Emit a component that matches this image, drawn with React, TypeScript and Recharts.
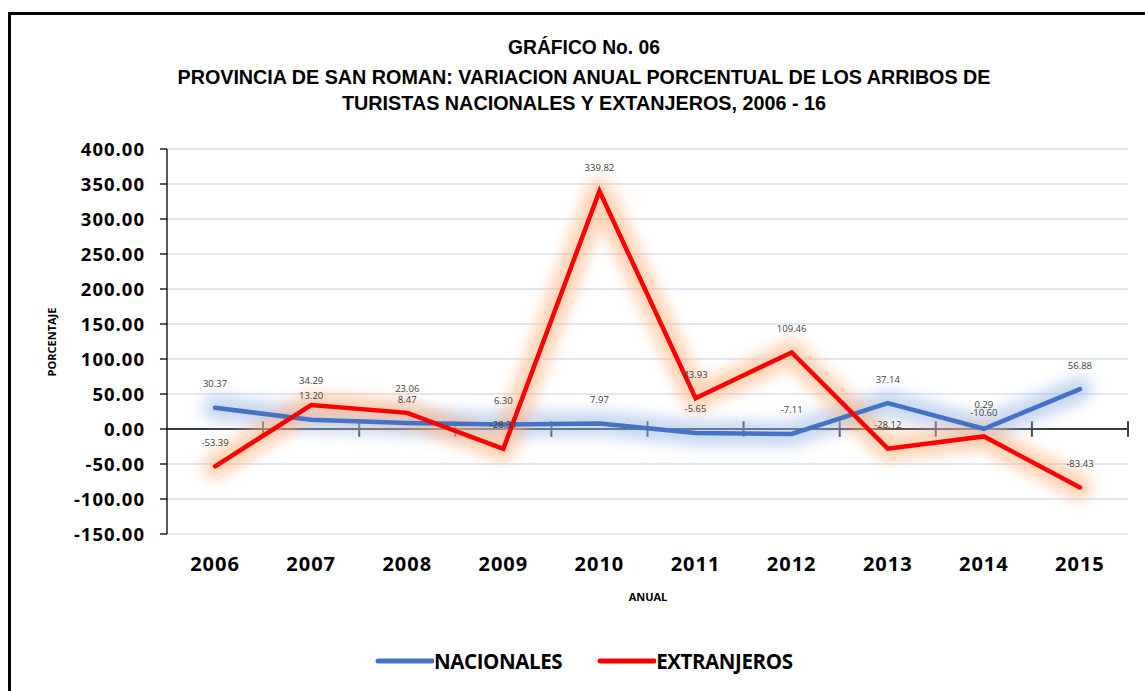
import React from 'react';
import { LineChart, Line, XAxis, YAxis, CartesianGrid, ReferenceLine, LabelList } from 'recharts';

const years = ['2006', '2007', '2008', '2009', '2010', '2011', '2012', '2013', '2014', '2015'];
const nacionales = [30.37, 13.2, 8.47, 6.3, 7.97, -5.65, -7.11, 37.14, 0.29, 56.88];
const extranjeros = [-53.39, 34.29, 23.06, -28.31, 339.82, 43.93, 109.46, -28.12, -10.6, -83.43];
const yTicks = [-150, -100, -50, 0, 50, 100, 150, 200, 250, 300, 350, 400];
const titleLines = [
  'GRÁFICO No. 06',
  'PROVINCIA DE SAN ROMAN: VARIACION ANUAL PORCENTUAL DE LOS ARRIBOS DE',
  'TURISTAS NACIONALES Y EXTANJEROS, 2006 - 16',
];
const series = [
  { key: 'nac', name: 'NACIONALES', color: '#4472C4', glow: '#9DB8E8' },
  { key: 'ext', name: 'EXTRANJEROS', color: '#FF0000', glow: '#FFB07A' },
];

const data = years.map((y, i) => ({ idx: i, year: y, nac: nacionales[i], ext: extranjeros[i] }));
const boundaries = years.map((_, i) => i + 0.5);

const W = 1145;
const H = 691;

export default function App() {
  return (
    <div style={{ position: 'absolute', left: 0, top: 0, width: W, height: H, overflow: 'hidden', background: '#fff' }}>
      <svg width={0} height={0} style={{ position: 'absolute' }}>
        <defs>
          <filter id="glowBlur" filterUnits="userSpaceOnUse" x={0} y={0} width={W} height={H}>
            <feGaussianBlur stdDeviation={7} />
          </filter>
        </defs>
      </svg>
      <div style={{ position: 'absolute', left: 8, top: 12, width: 1300, height: 800, border: '3px solid #000', boxSizing: 'border-box' }} />
      <svg width={W} height={130} style={{ position: 'absolute', left: 0, top: 0 }}>
        <text x={584} y={54} textAnchor="middle" fontFamily="'Liberation Sans', Arial, sans-serif" fontWeight="bold" fontSize={21} textLength={152} lengthAdjust="spacingAndGlyphs" fill="#000">{titleLines[0]}</text>
        <text x={584} y={84} textAnchor="middle" fontFamily="'Liberation Sans', Arial, sans-serif" fontWeight="bold" fontSize={21} textLength={813} lengthAdjust="spacingAndGlyphs" fill="#000">{titleLines[1]}</text>
        <text x={584} y={110} textAnchor="middle" fontFamily="'Liberation Sans', Arial, sans-serif" fontWeight="bold" fontSize={21} textLength={484} lengthAdjust="spacingAndGlyphs" fill="#000">{titleLines[2]}</text>
      </svg>
      <div style={{ position: 'absolute', left: 0, top: 0 }}>
        <LineChart width={W} height={H} data={data} margin={{ top: 149, right: 17, left: 0, bottom: 117 }}>
          <CartesianGrid vertical={false} stroke="#D6DFF1" strokeWidth={1.5} />
          <XAxis
            type="number"
            dataKey="idx"
            domain={[-0.5, 9.5]}
            ticks={years.map((_, i) => i)}
            tickFormatter={(v: number) => years[v]}
            axisLine={false}
            tickLine={false}
            tickSize={0}
            tickMargin={23}
            height={40}
            interval={0}
            tick={{ fill: '#000', fontFamily: "'Open Sans', sans-serif", fontWeight: 700, fontSize: 20, letterSpacing: 1 }}
          />
          <YAxis
            type="number"
            domain={[-150, 400]}
            ticks={yTicks}
            width={167}
            interval={0}
            tickFormatter={(v: number) => v.toFixed(2)}
            axisLine={{ stroke: '#000', strokeWidth: 1.3 }}
            tickLine={{ stroke: '#000', strokeWidth: 1.3 }}
            tickSize={7}
            tickMargin={15}
            tick={{ fill: '#000', fontFamily: "'Open Sans', sans-serif", fontWeight: 700, fontSize: 18.5, letterSpacing: 1 }}
          />
          <ReferenceLine y={0} stroke="#000" strokeWidth={1.5} ifOverflow="visible" />
          {boundaries.map((b) => (
            <ReferenceLine
              key={b}
              segment={[{ x: b, y: -11 }, { x: b, y: 11 }]}
              stroke="#404040"
              strokeWidth={2}
              ifOverflow="visible"
            />
          ))}
          {series.map((s) => (
            <Line
              key={s.key + 'g'}
              dataKey={s.key}
              stroke={s.glow}
              strokeWidth={26}
              strokeOpacity={0.55}
              dot={false}
              activeDot={false}
              legendType="none"
              isAnimationActive={false}
              filter="url(#glowBlur)"
              strokeLinejoin="round"
              strokeLinecap="round"
            />
          ))}
          {series.map((s) => (
            <Line
              key={s.key}
              dataKey={s.key}
              name={s.name}
              stroke={s.color}
              strokeWidth={4.5}
              dot={false}
              activeDot={false}
              isAnimationActive={false}
              strokeLinecap="round"
            >
              <LabelList
                dataKey={s.key}
                position="top"
                offset={20.5}
                formatter={(v: number) => v.toFixed(2)}
                style={{ fill: '#404040', fontFamily: "'Open Sans', sans-serif", fontSize: 9.5 }}
              />
            </Line>
          ))}
        </LineChart>
      </div>
      <svg width={W} height={H} style={{ position: 'absolute', left: 0, top: 0, pointerEvents: 'none' }}>
        <text x={0} y={0} transform="translate(56,342) rotate(-90)" textAnchor="middle" fontFamily="'Open Sans', sans-serif" fontWeight="bold" fontSize={11} fill="#000">PORCENTAJE</text>
        <text x={648} y={601} textAnchor="middle" fontFamily="'Open Sans', sans-serif" fontWeight="bold" fontSize={11} fill="#000">ANUAL</text>
      </svg>
      <div style={{ position: 'absolute', left: 374, top: 647, display: 'flex' }}>
        {series.map((s) => (
          <div key={s.key} style={{ display: 'flex', alignItems: 'center', marginRight: 34 }}>
            <svg width={60} height={28}>
              <line x1={4} y1={14} x2={58} y2={14} stroke={s.color} strokeWidth={5} strokeLinecap="round" />
            </svg>
            <span style={{ fontFamily: "'Open Sans', sans-serif", fontWeight: 700, fontSize: 20.5, color: '#000', letterSpacing: -0.4 }}>{s.name}</span>
          </div>
        ))}
      </div>
    </div>
  );
}
